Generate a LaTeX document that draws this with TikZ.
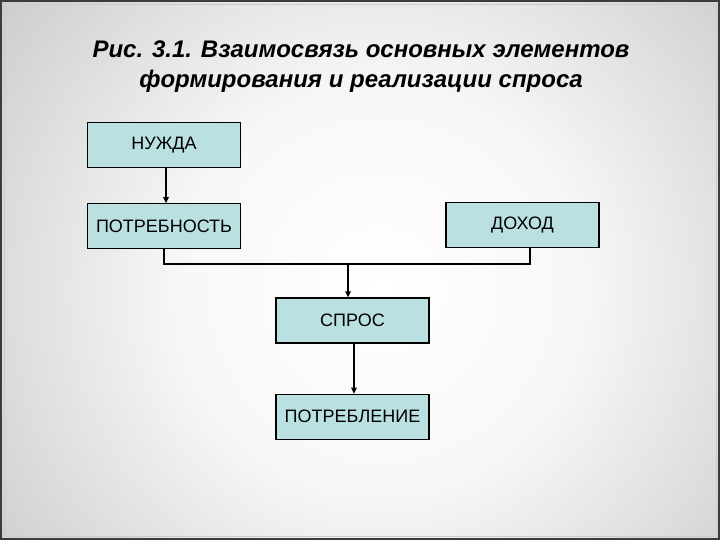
\documentclass[tikz,border=0pt]{standalone}
\usepackage{fontspec}
\setmainfont{Liberation Sans}
\usepackage{xcolor}
\usetikzlibrary{positioning, arrows.meta}
\definecolor{boxfill}{HTML}{BBE0E2}
\definecolor{framegray}{HTML}{3C3C3C}
\pgfdeclareradialshading{slidebg}{\pgfpoint{0bp}{0bp}}{%
  color(0bp)=(white); color(10bp)=(black!3); color(25bp)=(black!21);
  color(38bp)=(black!36); color(50bp)=(black!41)}

\begin{document}
\begin{tikzpicture}[
    x=1pt, y=-1pt,
    every node/.style={align=center},
    box/.style={draw, fill=boxfill, line width=1.3pt, inner sep=0pt,
      minimum height=45pt, minimum width=153pt, font=\fontsize{18}{20}\selectfont},
    arr/.style={-{Triangle[length=6pt, width=5.5pt]}, line width=1.3pt},
    link/.style={line width=1.3pt},
    node distance=35pt
]

% --- Slide background ---
\useasboundingbox (0,0) rectangle (720,540);
\shade[shading=slidebg] (-120,-210) rectangle (880,790);
\draw[framegray, line width=2pt] (1,1) rectangle (719,539);
\draw[black!20, line width=0.8pt] (4,4) rectangle (716,536);

% --- Title ---
\node[font=\fontsize{24}{30}\selectfont\bfseries\itshape] (title) at (361,67)
  {Рис. 3.1. Взаимосвязь основных элементов\\формирования и реализации спроса};

% --- Boxes ---
\node[box] (need) at (164,145) {НУЖДА};
\node[box, below=35pt of need] (want) {ПОТРЕБНОСТЬ};
\node[box] (income) at (522.5,225) {ДОХОД};
\node[box] (demand) at (352.5,320.5) {СПРОС};
\node[box, below=50pt of demand] (consume) {ПОТРЕБЛЕНИЕ};
\coordinate (join) at (348,264);

% --- Edges ---
\draw[arr] ([xshift=2pt]need.south) -- ([xshift=2pt]want.north);
\draw[link] (want.south) |- (join) -| ([xshift=7.5pt]income.south);
\draw[arr] (join) -- (join |- demand.north);
\draw[arr] ([xshift=1.5pt]demand.south) -- ([xshift=1.5pt]consume.north);

\end{tikzpicture}
\end{document}
